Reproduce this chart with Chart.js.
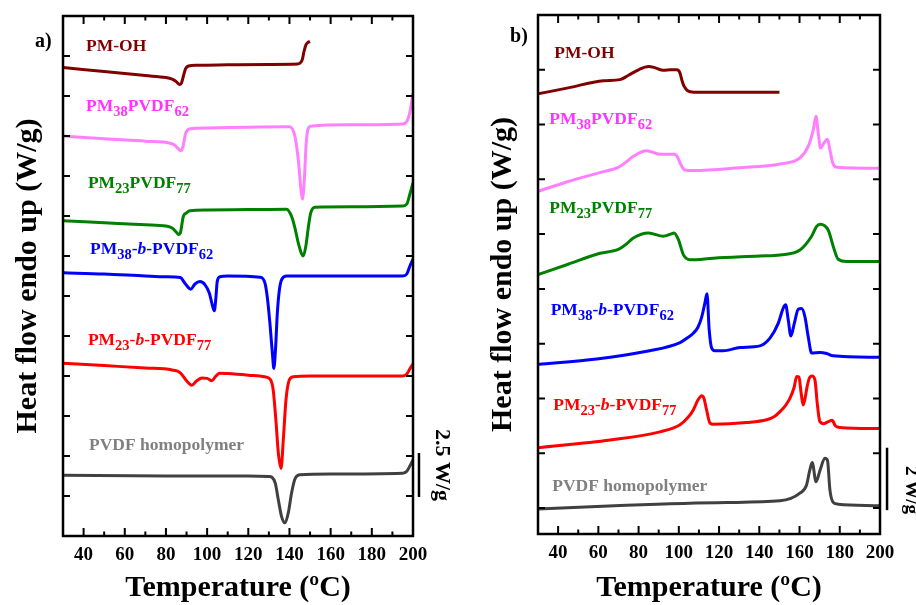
<!DOCTYPE html>
<html><head><meta charset="utf-8">
<script src="https://cdn.jsdelivr.net/npm/chart.js@4.4.1/dist/chart.umd.min.js"></script>
<style>
html,body{margin:0;padding:0;background:#fff;}
#wrap{position:relative;width:916px;height:605px;overflow:hidden;background:#fff;}
#ca{position:absolute;left:0;top:0;}
#cb{position:absolute;left:460px;top:0;}
</style></head><body>
<div id="wrap"><canvas id="ca" width="460" height="605"></canvas><canvas id="cb" width="456" height="605"></canvas></div>
<script>
const FONT = "'Liberation Serif','Times New Roman',serif";
const xTickLabels = [40,60,80,100,120,140,160,180,200];
const xMinorTicks = [30,40,50,60,70,80,90,100,110,120,130,140,150,160,170,180,190,200];
const yTicksA = [1,2,3,4,5,6,7,8,9,10,11,12];
const yTicksB = [0,1,2,3,4,5,6,7,8];

// ---- Panel a) (cooling) : [temperature, heat flow (offset units)] ----
const a_PMOH = [[30,11.71],[50,11.61],[70,11.51],[80,11.46],[83,11.42],[85,11.36],[86.5,11.29],[87.5,11.32],[88.5,11.5],[89.5,11.68],[91,11.75],[95,11.77],[110,11.78],[130,11.79],[144,11.8],[145.5,11.84],[146.3,11.92],[147,12.1],[148,12.28],[149,12.34],[150,12.36]];
const a_PM38PVDF62 = [[30,10.0],[50,9.93],[70,9.87],[82,9.82],[84,9.78],[86,9.68],[87.2,9.63],[88.2,9.72],[89.6,10.07],[92,10.18],[100,10.2],[120,10.22],[140,10.23],[142.7,9.98],[144.3,9.4],[145.6,8.65],[146.3,8.42],[147.3,8.98],[148.1,9.8],[149.2,10.2],[150.9,10.25],[170,10.28],[195,10.3],[197,10.36],[198.5,10.6],[199.5,10.9],[200,11.07]];
const a_PM23PVDF77 = [[30,7.88],[50,7.83],[70,7.78],[80,7.75],[83,7.7],[85,7.6],[86,7.54],[87,7.58],[88.4,7.98],[90,8.08],[91.6,8.13],[100,8.15],[120,8.16],[138.6,8.17],[141.1,7.98],[142.7,7.69],[144.3,7.32],[145.9,7.05],[146.7,7.0],[147.9,7.23],[149.2,7.73],[150.3,8.07],[152.4,8.22],[170,8.23],[195,8.25],[197,8.3],[198.5,8.55],[200,8.83]];
const a_PM38bPVDF62 = [[30,6.58],[50,6.55],[70,6.5],[80,6.48],[87,6.46],[89.2,6.32],[92,6.17],[94.1,6.3],[96.5,6.36],[99,6.28],[101.1,6.07],[102.5,5.78],[103.5,5.63],[104.3,5.98],[104.9,6.36],[106.2,6.48],[110,6.5],[125.7,6.47],[128.1,6.32],[129.2,5.98],[130.5,5.32],[131.7,4.57],[132.4,4.19],[133.2,4.65],[134.1,5.57],[135.1,6.15],[136.3,6.42],[138.7,6.5],[170,6.5],[195,6.5],[197,6.55],[198.5,6.75],[200,6.92]];
const a_PM23bPVDF77 = [[30,4.32],[50,4.26],[70,4.2],[83,4.15],[87,4.08],[90,3.88],[92.5,3.77],[95,3.88],[97.5,3.95],[100,3.94],[102.3,3.88],[104,3.98],[106,4.07],[110,4.06],[120,4.02],[128,3.98],[130.6,3.92],[132.1,3.65],[133.4,2.9],[134.6,2.07],[135.9,1.69],[137,2.4],[138.3,3.4],[139.9,3.9],[141.9,3.98],[150,4.0],[170,4.0],[195,4.0],[197,4.05],[198.5,4.18],[200,4.3]];
const a_PVDF = [[30,1.52],[80,1.5],[120,1.5],[130,1.49],[131.5,1.47],[133.1,1.32],[134.6,0.9],[136.2,0.48],[137.8,0.33],[139.4,0.57],[141,1.07],[142.6,1.42],[145,1.53],[160,1.55],[195,1.57],[197,1.62],[198.5,1.75],[200,1.9]];
const scaleBarA = [[202.9,0.975],[202.9,2.075]];

// ---- Panel b) (heating) ----
const b_PMOH = [[30,7.56],[45,7.67],[62.5,7.8],[70.8,7.82],[75,7.9],[80,8.0],[84.9,8.06],[88,8.04],[92.3,7.99],[96,8.0],[99,8.0],[100.6,7.94],[101.6,7.8],[102.6,7.7],[104,7.63],[105.6,7.6],[110,7.59],[150,7.59]];
const b_PM38PVDF62 = [[30,5.78],[45,5.96],[62.5,6.14],[69.9,6.22],[74,6.32],[77.4,6.42],[84,6.52],[90.6,6.46],[98.1,6.46],[99.5,6.4],[100.6,6.3],[103,6.17],[107.2,6.16],[130,6.21],[150.3,6.28],[160.2,6.39],[164.3,6.6],[166.8,6.9],[168.2,7.15],[169.3,6.84],[170.5,6.57],[172.1,6.66],[173.9,6.73],[175.1,6.54],[176.5,6.3],[178.5,6.22],[200,6.2]];
const b_PM23PVDF77 = [[30,4.26],[45,4.45],[60.8,4.65],[69.9,4.72],[74,4.82],[77.4,4.93],[84.9,5.02],[92.3,4.96],[96,5.0],[97.6,5.02],[99.8,4.9],[102.3,4.62],[105.6,4.53],[117.2,4.56],[140,4.6],[150.3,4.62],[160.2,4.71],[166,4.96],[168.5,5.14],[170.2,5.18],[174.3,5.07],[176.8,4.77],[179.2,4.54],[183.4,4.5],[200,4.5]];
const b_PM38bPVDF62 = [[30,2.62],[59.2,2.72],[84.1,2.86],[100.6,3.02],[104,3.1],[107.2,3.19],[109.5,3.3],[111.4,3.49],[113,3.75],[114,3.91],[115.1,3.25],[116.3,2.92],[117.9,2.87],[122.1,2.87],[130.4,2.93],[140.3,2.96],[145.3,3.1],[149.4,3.37],[151.9,3.65],[153.1,3.71],[154.4,3.43],[155.7,3.14],[157.4,3.37],[159.4,3.63],[161,3.64],[162.7,3.49],[164.3,3.13],[166,2.83],[170.2,2.84],[173.5,2.82],[176.6,2.78],[200,2.75]];
const b_PM23bPVDF77 = [[30,1.1],[65.8,1.24],[90.6,1.39],[100.6,1.52],[104.5,1.65],[107.2,1.79],[109.5,1.97],[111.4,2.05],[112.5,2.0],[113.8,1.79],[115.5,1.55],[117.1,1.53],[133.7,1.56],[143.6,1.61],[147.5,1.67],[150.3,1.76],[153,1.87],[155.2,2.0],[157.3,2.2],[158.6,2.4],[159.7,2.39],[160.8,2.1],[161.8,1.88],[163,2.05],[163.8,2.22],[165,2.38],[166.3,2.41],[167.7,2.33],[168.8,1.91],[170.1,1.58],[172.1,1.54],[174.5,1.58],[176.2,1.6],[177.8,1.5],[180.1,1.47],[200,1.45]];
const b_PVDF = [[30,-0.02],[73.9,0.05],[123.8,0.1],[150.3,0.13],[160.2,0.27],[163.5,0.42],[165.1,0.69],[166.3,0.83],[168.2,0.48],[170.2,0.69],[172.6,0.91],[173.9,0.87],[175.1,0.33],[176.8,0.1],[179.2,0.07],[200,0.04]];
const scaleBarB = [[203.5,-0.04],[203.5,1.1]];

const seriesNames = ['PM-OH','PM_{38}PVDF_{62}','PM_{23}PVDF_{77}','PM_{38}-*b*-PVDF_{62}','PM_{23}-*b*-PVDF_{77}','PVDF homopolymer'];
const lineColors = ['#800000','#ff80ff','#008000','#0000ff','#ff0000','#404040'];
const labelColors = ['#800000','#ff33ff','#008000','#0000ff','#ff0000','#808080'];

function parseLabel(s){
  const out=[]; let i=0, buf='', it=false;
  while(i<s.length){
    const c=s[i];
    if(c==='_'&&s[i+1]==='{'){ if(buf){out.push({t:buf,it});buf='';} const j=s.indexOf('}',i); out.push({t:s.slice(i+2,j),sub:true,it}); i=j+1; continue; }
    if(c==='*'){ if(buf){out.push({t:buf,it});buf='';} it=!it; i++; continue; }
    buf+=c; i++;
  }
  if(buf) out.push({t:buf,it});
  return out;
}

const framePlugin = {
  id:'frame',
  afterDraw(chart, args, o){
    const {ctx, chartArea:ca, scales:{x,y}} = chart;
    ctx.save();
    ctx.strokeStyle='#000'; ctx.lineWidth=2;
    ctx.beginPath();
    for(const v of xMinorTicks){
      const px=x.getPixelForValue(v); const L = xTickLabels.includes(v)?8:4.5;
      ctx.moveTo(px,ca.bottom); ctx.lineTo(px,ca.bottom-L);
      ctx.moveTo(px,ca.top); ctx.lineTo(px,ca.top+L);
    }
    for(const v of o.yTicks){
      const py=y.getPixelForValue(v);
      ctx.moveTo(ca.left,py); ctx.lineTo(ca.left+7,py);
      ctx.moveTo(ca.right,py); ctx.lineTo(ca.right-7,py);
    }
    ctx.stroke();
    ctx.lineWidth=2.5;
    ctx.strokeRect(ca.left,ca.top,ca.right-ca.left,ca.bottom-ca.top);
    // curve labels
    ctx.textBaseline='alphabetic'; ctx.textAlign='left';
    o.labels.forEach((pos,k)=>{
      let px=x.getPixelForValue(pos[0]); const py=y.getPixelForValue(pos[1]);
      ctx.fillStyle=labelColors[k];
      for(const sg of parseLabel(seriesNames[k])){
        const sz = sg.sub?14.5:17.5;
        ctx.font=(sg.it?'italic ':'')+'bold '+sz+'px '+FONT;
        ctx.fillText(sg.t,px,py+(sg.sub?5:0));
        px+=ctx.measureText(sg.t).width;
      }
    });
    // panel letter
    ctx.fillStyle='#000';
    ctx.font='bold 20px '+FONT;
    ctx.fillText(o.panel, x.getPixelForValue(o.panelPos[0]), y.getPixelForValue(o.panelPos[1]));
    // scale bar text
    ctx.translate(x.getPixelForValue(o.barText[0]), y.getPixelForValue(o.barText[1]));
    ctx.rotate(Math.PI/2);
    ctx.textAlign='center';
    ctx.font='bold '+o.barFont+'px '+FONT;
    ctx.fillText(o.barLabel,0,0);
    ctx.restore();
  }
};

function makeChart(id, series, bar, cfg){
  const datasets = series.map((s,k)=>({
    data:s.map(([x,y])=>({x,y})), borderColor:lineColors[k], borderWidth:3,
    pointRadius:0, fill:false, cubicInterpolationMode:'monotone'
  }));
  datasets.push({data:bar.map(([x,y])=>({x,y})), borderColor:'#000', borderWidth:2.5, pointRadius:0, fill:false, tension:0, clip:false});
  return new Chart(document.getElementById(id),{
    type:'line',
    data:{datasets},
    options:{
      responsive:false, animation:false, devicePixelRatio:1,
      layout:{padding:{top:cfg.top,right:cfg.right,left:0,bottom:0}},
      plugins:{legend:{display:false},tooltip:{enabled:false},frame:cfg},
      scales:{
        x:{type:'linear',min:30,max:200,
          afterBuildTicks:ax=>{ax.ticks=xTickLabels.map(v=>({value:v}));},
          afterFit:sc=>{sc.height=cfg.xh;},
          grid:{display:false,drawTicks:false}, border:{display:false},
          ticks:{padding:8,color:'#000',font:{family:FONT,size:19,weight:'bold'},maxRotation:0,autoSkip:false},
          title:{display:true,text:'Temperature (ºC)',color:'#000',font:{family:FONT,size:30,weight:'bold',lineHeight:1.1},padding:{top:0,bottom:0}}},
        y:{type:'linear',min:cfg.ymin,max:cfg.ymax,
          afterFit:sc=>{sc.width=cfg.yw;},
          grid:{display:false,drawTicks:false}, border:{display:false}, ticks:{display:false},
          title:{display:true,text:'Heat flow endo up (W/g)',color:'#000',font:{family:FONT,size:30,weight:'bold',lineHeight:1.1},padding:{top:cfg.ytp,bottom:0}}}
      }
    },
    plugins:[framePlugin]
  });
}

makeChart('ca',[a_PMOH,a_PM38PVDF62,a_PM23PVDF77,a_PM38bPVDF62,a_PM23bPVDF77,a_PVDF],scaleBarA,{
  top:16,right:47,xh:69,yw:63,ymin:0,ymax:13,ytp:11.5,yTicks:yTicksA,
  labels:[[41.2,12.125],[41.2,10.625],[42.1,8.7],[43.1,7.05],[42.1,4.775],[42.6,2.15]],
  panel:'a)',panelPos:[16.4,12.225],
  barText:[211.2,1.775],barLabel:'2.5 W/g',barFont:22
});
makeChart('cb',[b_PMOH,b_PM38PVDF62,b_PM23PVDF77,b_PM38bPVDF62,b_PM23bPVDF77,b_PVDF],scaleBarB,{
  top:15,right:36,xh:71,yw:78,ymin:-0.475,ymax:9,ytp:26.5,yTicks:yTicksB,
  labels:[[38.1,8.22],[35.6,7.01],[35.6,5.39],[36.3,3.53],[37.6,1.78],[37.1,0.31]],
  panel:'b)',panelPos:[16.1,8.51],
  barText:[212.9,0.33],barLabel:'2 W/g',barFont:19
});
</script>
</body></html>
